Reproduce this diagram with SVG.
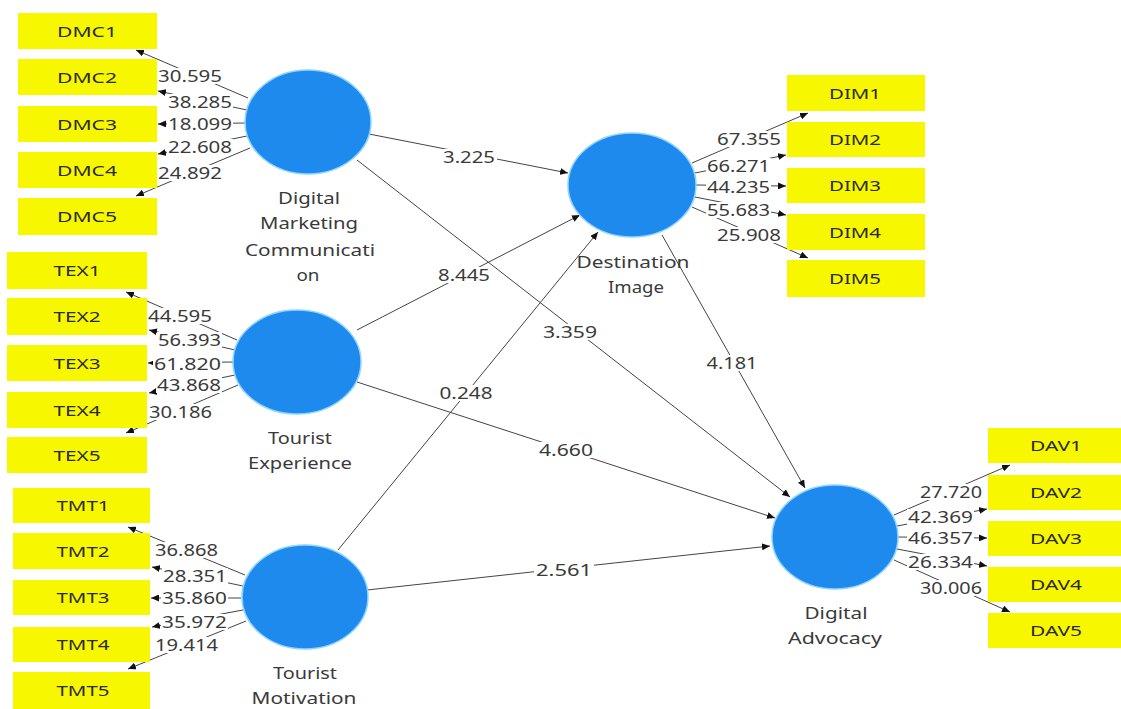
<svg xmlns="http://www.w3.org/2000/svg" width="1121" height="709" viewBox="0 0 1121 709">
<style>
.box{fill:#F7F700;}
.bl{font-family:"Noto Sans","Open Sans",sans-serif;font-size:15px;fill:#2a2a2a;text-anchor:middle;}
.lv{fill:#1E8AEE;stroke:#8AD4FF;stroke-width:1.5;}
.ll{font-family:"Noto Sans","Open Sans",sans-serif;font-size:17px;fill:#3a3a3a;text-anchor:middle;}
.c{stroke:#444;stroke-width:1;fill:none;marker-end:url(#ah);}
.bg{fill:#fff;}
.n{font-family:"Noto Sans","Open Sans",sans-serif;font-size:17px;fill:#3a3a3a;}
.e{text-anchor:end;}
.m{text-anchor:middle;}
</style>
<defs>
<marker id="ah" markerWidth="8" markerHeight="7" refX="8" refY="3.5" orient="auto" markerUnits="userSpaceOnUse">
<path d="M0,0 L8,3.5 L0,7 z" fill="#111"/>
</marker>
</defs>
<rect width="1121" height="709" fill="#fff"/>
<g id="connectors">
<line class="c" x1="369" y1="134" x2="568" y2="173"/>
<line class="c" x1="357" y1="160" x2="790" y2="497"/>
<line class="c" x1="357" y1="330" x2="580" y2="215"/>
<line class="c" x1="338" y1="550" x2="598" y2="232"/>
<line class="c" x1="662" y1="235" x2="805" y2="488"/>
<line class="c" x1="357" y1="382" x2="775" y2="518"/>
<line class="c" x1="367" y1="590" x2="770" y2="546"/>
<line class="c" x1="248" y1="98" x2="136" y2="50"/>
<line class="c" x1="247" y1="110" x2="158" y2="91"/>
<line class="c" x1="246" y1="123" x2="158" y2="124"/>
<line class="c" x1="247" y1="136" x2="158" y2="154"/>
<line class="c" x1="250" y1="148" x2="136" y2="196"/>
<line class="c" x1="237" y1="340" x2="126" y2="292"/>
<line class="c" x1="235" y1="350" x2="149" y2="330"/>
<line class="c" x1="233" y1="362" x2="148" y2="363"/>
<line class="c" x1="235" y1="375" x2="149" y2="393"/>
<line class="c" x1="238" y1="385" x2="126" y2="433"/>
<line class="c" x1="245" y1="575" x2="128" y2="527"/>
<line class="c" x1="243" y1="586" x2="152" y2="567"/>
<line class="c" x1="241" y1="598" x2="151" y2="598"/>
<line class="c" x1="243" y1="610" x2="152" y2="627"/>
<line class="c" x1="246" y1="621" x2="128" y2="669"/>
<line class="c" x1="692" y1="163" x2="808" y2="113"/>
<line class="c" x1="695" y1="173" x2="786" y2="155"/>
<line class="c" x1="696" y1="185" x2="786" y2="186"/>
<line class="c" x1="695" y1="197" x2="786" y2="215"/>
<line class="c" x1="692" y1="207" x2="808" y2="258"/>
<line class="c" x1="894" y1="515" x2="1010" y2="465"/>
<line class="c" x1="897" y1="526" x2="987" y2="509"/>
<line class="c" x1="898" y1="537" x2="987" y2="538"/>
<line class="c" x1="897" y1="549" x2="987" y2="566"/>
<line class="c" x1="894" y1="560" x2="1010" y2="612"/>
<rect class="bg" x="441" y="149" width="56" height="16"/>
<rect class="bg" x="436" y="267" width="56" height="16"/>
<rect class="bg" x="541" y="324" width="58" height="16"/>
<rect class="bg" x="705" y="355" width="55" height="16"/>
<rect class="bg" x="438" y="385" width="57" height="16"/>
<rect class="bg" x="537" y="442" width="58" height="16"/>
<rect class="bg" x="534" y="562" width="60" height="16"/>
<rect class="bg" x="157" y="68" width="66" height="16"/>
<rect class="bg" x="167" y="94" width="66" height="16"/>
<rect class="bg" x="167" y="116" width="66" height="16"/>
<rect class="bg" x="167" y="139" width="66" height="16"/>
<rect class="bg" x="157" y="165" width="66" height="16"/>
<rect class="bg" x="147" y="308" width="66" height="16"/>
<rect class="bg" x="157" y="332" width="65" height="16"/>
<rect class="bg" x="153" y="356" width="69" height="16"/>
<rect class="bg" x="156" y="377" width="66" height="16"/>
<rect class="bg" x="148" y="404" width="65" height="16"/>
<rect class="bg" x="154" y="542" width="65" height="16"/>
<rect class="bg" x="162" y="568" width="66" height="16"/>
<rect class="bg" x="161" y="590" width="67" height="16"/>
<rect class="bg" x="161" y="614" width="67" height="16"/>
<rect class="bg" x="154" y="637" width="65" height="16"/>
<rect class="bg" x="716" y="131" width="66" height="16"/>
<rect class="bg" x="706" y="158" width="65" height="16"/>
<rect class="bg" x="706" y="179" width="65" height="16"/>
<rect class="bg" x="706" y="202" width="65" height="16"/>
<rect class="bg" x="716" y="227" width="66" height="16"/>
<rect class="bg" x="919" y="484" width="64" height="16"/>
<rect class="bg" x="907" y="509" width="67" height="16"/>
<rect class="bg" x="907" y="530" width="67" height="16"/>
<rect class="bg" x="907" y="554" width="67" height="16"/>
<rect class="bg" x="919" y="580" width="64" height="16"/>
<text class="n m" x="469" y="163" textLength="52" lengthAdjust="spacingAndGlyphs">3.225</text>
<text class="n m" x="464" y="281" textLength="52" lengthAdjust="spacingAndGlyphs">8.445</text>
<text class="n m" x="570" y="338" textLength="54" lengthAdjust="spacingAndGlyphs">3.359</text>
<text class="n m" x="732" y="369" textLength="51" lengthAdjust="spacingAndGlyphs">4.181</text>
<text class="n m" x="466" y="399" textLength="53" lengthAdjust="spacingAndGlyphs">0.248</text>
<text class="n m" x="566" y="456" textLength="54" lengthAdjust="spacingAndGlyphs">4.660</text>
<text class="n m" x="564" y="576" textLength="56" lengthAdjust="spacingAndGlyphs">2.561</text>
<text class="n e" x="222" y="82" textLength="64" lengthAdjust="spacingAndGlyphs">30.595</text>
<text class="n e" x="232" y="108" textLength="64" lengthAdjust="spacingAndGlyphs">38.285</text>
<text class="n e" x="232" y="130" textLength="64" lengthAdjust="spacingAndGlyphs">18.099</text>
<text class="n e" x="232" y="153" textLength="64" lengthAdjust="spacingAndGlyphs">22.608</text>
<text class="n e" x="222" y="179" textLength="64" lengthAdjust="spacingAndGlyphs">24.892</text>
<text class="n e" x="212" y="322" textLength="64" lengthAdjust="spacingAndGlyphs">44.595</text>
<text class="n e" x="221" y="346" textLength="63" lengthAdjust="spacingAndGlyphs">56.393</text>
<text class="n e" x="221" y="370" textLength="67" lengthAdjust="spacingAndGlyphs">61.820</text>
<text class="n e" x="221" y="391" textLength="64" lengthAdjust="spacingAndGlyphs">43.868</text>
<text class="n e" x="212" y="418" textLength="63" lengthAdjust="spacingAndGlyphs">30.186</text>
<text class="n e" x="218" y="556" textLength="63" lengthAdjust="spacingAndGlyphs">36.868</text>
<text class="n e" x="227" y="582" textLength="64" lengthAdjust="spacingAndGlyphs">28.351</text>
<text class="n e" x="227" y="604" textLength="65" lengthAdjust="spacingAndGlyphs">35.860</text>
<text class="n e" x="227" y="628" textLength="65" lengthAdjust="spacingAndGlyphs">35.972</text>
<text class="n e" x="218" y="651" textLength="63" lengthAdjust="spacingAndGlyphs">19.414</text>
<text class="n e" x="781" y="145" textLength="64" lengthAdjust="spacingAndGlyphs">67.355</text>
<text class="n e" x="770" y="172" textLength="63" lengthAdjust="spacingAndGlyphs">66.271</text>
<text class="n e" x="770" y="193" textLength="63" lengthAdjust="spacingAndGlyphs">44.235</text>
<text class="n e" x="770" y="216" textLength="63" lengthAdjust="spacingAndGlyphs">55.683</text>
<text class="n e" x="781" y="241" textLength="64" lengthAdjust="spacingAndGlyphs">25.908</text>
<text class="n e" x="982" y="498" textLength="62" lengthAdjust="spacingAndGlyphs">27.720</text>
<text class="n e" x="973" y="523" textLength="65" lengthAdjust="spacingAndGlyphs">42.369</text>
<text class="n e" x="973" y="544" textLength="65" lengthAdjust="spacingAndGlyphs">46.357</text>
<text class="n e" x="973" y="568" textLength="65" lengthAdjust="spacingAndGlyphs">26.334</text>
<text class="n e" x="982" y="594" textLength="62" lengthAdjust="spacingAndGlyphs">30.006</text>
</g>
<g id="DMC">
<ellipse class="lv" cx="308" cy="122" rx="63" ry="52"/>
<text class="ll" x="309" y="204" textLength="62" lengthAdjust="spacingAndGlyphs">Digital</text>
<text class="ll" x="309" y="229" textLength="98" lengthAdjust="spacingAndGlyphs">Marketing</text>
<text class="ll" x="310" y="256" textLength="130" lengthAdjust="spacingAndGlyphs">Communicati</text>
<text class="ll" x="308" y="281" textLength="23" lengthAdjust="spacingAndGlyphs">on</text>
</g>
<g id="TEX">
<ellipse class="lv" cx="297" cy="362" rx="64" ry="52"/>
<text class="ll" x="300" y="444" textLength="64" lengthAdjust="spacingAndGlyphs">Tourist</text>
<text class="ll" x="300" y="469" textLength="104" lengthAdjust="spacingAndGlyphs">Experience</text>
</g>
<g id="TMT">
<ellipse class="lv" cx="305" cy="597" rx="63" ry="52"/>
<text class="ll" x="305" y="679" textLength="64" lengthAdjust="spacingAndGlyphs">Tourist</text>
<text class="ll" x="304" y="704" textLength="105" lengthAdjust="spacingAndGlyphs">Motivation</text>
</g>
<g id="DIM">
<ellipse class="lv" cx="632" cy="185" rx="64" ry="52"/>
<text class="ll" x="633" y="268" textLength="113" lengthAdjust="spacingAndGlyphs">Destination</text>
<text class="ll" x="636" y="293" textLength="56" lengthAdjust="spacingAndGlyphs">Image</text>
</g>
<g id="DAV">
<ellipse class="lv" cx="835" cy="537" rx="63" ry="52"/>
<text class="ll" x="836" y="619" textLength="63" lengthAdjust="spacingAndGlyphs">Digital</text>
<text class="ll" x="835" y="644" textLength="94" lengthAdjust="spacingAndGlyphs">Advocacy</text>
</g>
<g id="DMC1"><rect class="box" x="18" y="13" width="139" height="36"/><text class="bl" x="87" y="37" textLength="60" lengthAdjust="spacingAndGlyphs">DMC1</text></g>
<g id="DMC2"><rect class="box" x="18" y="59" width="139" height="36"/><text class="bl" x="87" y="83" textLength="60" lengthAdjust="spacingAndGlyphs">DMC2</text></g>
<g id="DMC3"><rect class="box" x="18" y="106" width="139" height="36"/><text class="bl" x="87" y="130" textLength="60" lengthAdjust="spacingAndGlyphs">DMC3</text></g>
<g id="DMC4"><rect class="box" x="18" y="152" width="139" height="36"/><text class="bl" x="87" y="176" textLength="60" lengthAdjust="spacingAndGlyphs">DMC4</text></g>
<g id="DMC5"><rect class="box" x="18" y="198" width="139" height="37"/><text class="bl" x="87" y="222" textLength="60" lengthAdjust="spacingAndGlyphs">DMC5</text></g>
<g id="TEX1"><rect class="box" x="7" y="252" width="140" height="37"/><text class="bl" x="77" y="276" textLength="47" lengthAdjust="spacingAndGlyphs">TEX1</text></g>
<g id="TEX2"><rect class="box" x="7" y="298" width="140" height="37"/><text class="bl" x="77" y="322" textLength="47" lengthAdjust="spacingAndGlyphs">TEX2</text></g>
<g id="TEX3"><rect class="box" x="7" y="345" width="140" height="36"/><text class="bl" x="77" y="369" textLength="47" lengthAdjust="spacingAndGlyphs">TEX3</text></g>
<g id="TEX4"><rect class="box" x="7" y="392" width="140" height="36"/><text class="bl" x="77" y="416" textLength="47" lengthAdjust="spacingAndGlyphs">TEX4</text></g>
<g id="TEX5"><rect class="box" x="7" y="437" width="140" height="36"/><text class="bl" x="77" y="461" textLength="47" lengthAdjust="spacingAndGlyphs">TEX5</text></g>
<g id="TMT1"><rect class="box" x="13" y="488" width="137" height="35"/><text class="bl" x="83" y="511" textLength="53" lengthAdjust="spacingAndGlyphs">TMT1</text></g>
<g id="TMT2"><rect class="box" x="13" y="533" width="137" height="36"/><text class="bl" x="83" y="557" textLength="53" lengthAdjust="spacingAndGlyphs">TMT2</text></g>
<g id="TMT3"><rect class="box" x="13" y="580" width="137" height="35"/><text class="bl" x="83" y="603" textLength="53" lengthAdjust="spacingAndGlyphs">TMT3</text></g>
<g id="TMT4"><rect class="box" x="13" y="627" width="137" height="35"/><text class="bl" x="83" y="650" textLength="53" lengthAdjust="spacingAndGlyphs">TMT4</text></g>
<g id="TMT5"><rect class="box" x="13" y="672" width="137" height="37"/><text class="bl" x="83" y="696" textLength="53" lengthAdjust="spacingAndGlyphs">TMT5</text></g>
<g id="DIM1"><rect class="box" x="787" y="75" width="138" height="36"/><text class="bl" x="855" y="99" textLength="52" lengthAdjust="spacingAndGlyphs">DIM1</text></g>
<g id="DIM2"><rect class="box" x="787" y="122" width="138" height="35"/><text class="bl" x="855" y="145" textLength="52" lengthAdjust="spacingAndGlyphs">DIM2</text></g>
<g id="DIM3"><rect class="box" x="787" y="168" width="138" height="35"/><text class="bl" x="855" y="191" textLength="52" lengthAdjust="spacingAndGlyphs">DIM3</text></g>
<g id="DIM4"><rect class="box" x="787" y="214" width="138" height="36"/><text class="bl" x="855" y="238" textLength="52" lengthAdjust="spacingAndGlyphs">DIM4</text></g>
<g id="DIM5"><rect class="box" x="787" y="260" width="138" height="37"/><text class="bl" x="855" y="284" textLength="52" lengthAdjust="spacingAndGlyphs">DIM5</text></g>
<g id="DAV1"><rect class="box" x="988" y="428" width="139" height="35"/><text class="bl" x="1056" y="451" textLength="52" lengthAdjust="spacingAndGlyphs">DAV1</text></g>
<g id="DAV2"><rect class="box" x="988" y="475" width="139" height="35"/><text class="bl" x="1056" y="498" textLength="52" lengthAdjust="spacingAndGlyphs">DAV2</text></g>
<g id="DAV3"><rect class="box" x="988" y="521" width="139" height="35"/><text class="bl" x="1056" y="544" textLength="52" lengthAdjust="spacingAndGlyphs">DAV3</text></g>
<g id="DAV4"><rect class="box" x="988" y="567" width="139" height="35"/><text class="bl" x="1056" y="590" textLength="52" lengthAdjust="spacingAndGlyphs">DAV4</text></g>
<g id="DAV5"><rect class="box" x="988" y="613" width="139" height="35"/><text class="bl" x="1056" y="636" textLength="52" lengthAdjust="spacingAndGlyphs">DAV5</text></g>
</svg>
